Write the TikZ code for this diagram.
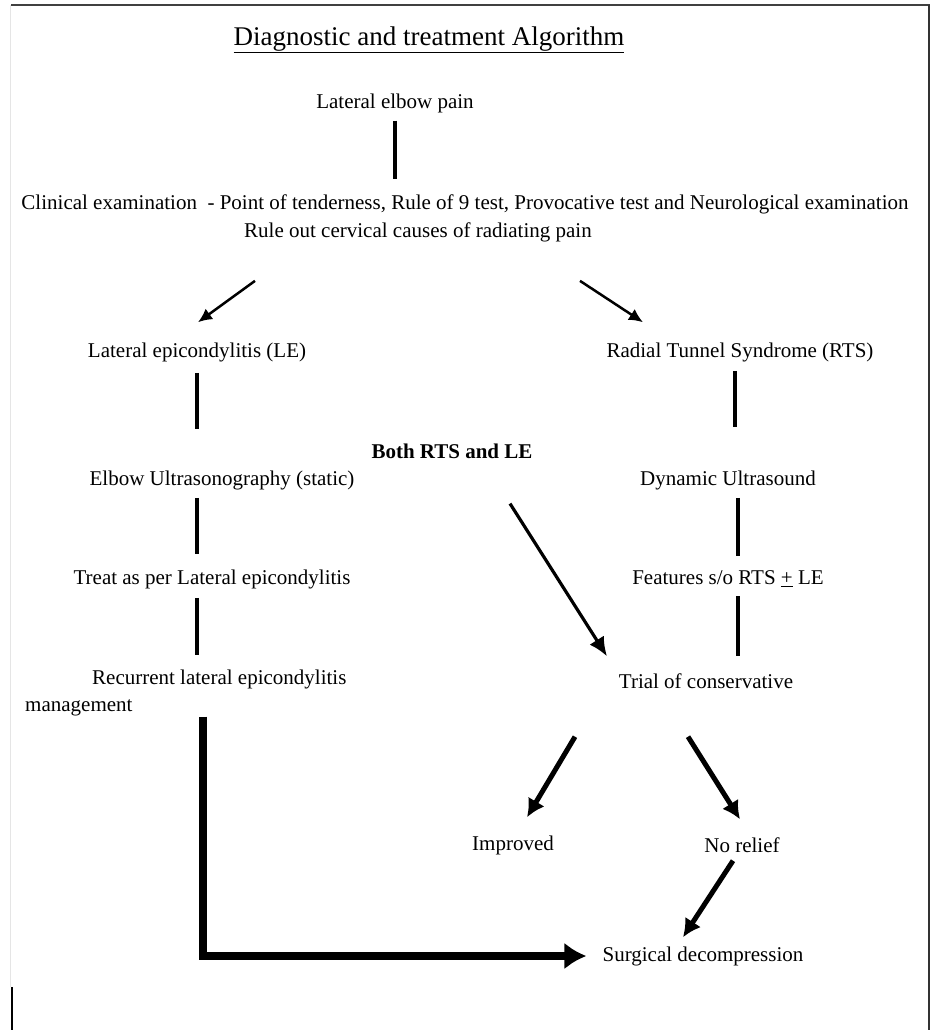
\documentclass[tikz,border=0pt]{standalone}
\usepackage{fontspec}
\setmainfont{Liberation Serif}
\usetikzlibrary{positioning}
\usetikzlibrary{arrows.meta}

\tikzset{
  txt/.style={inner sep=0pt, font=\fontsize{21}{27}\selectfont},
  stem/.style={line width=4pt},
  arr/.style={-{Latex[length=14pt,width=13pt]}, line width=2.5pt},
  midarr/.style={-{Latex[length=19pt,width=17pt]}, line width=3.2pt},
  bigarr/.style={-{Latex[length=18pt,width=19pt]}, line width=5pt},
}

\begin{document}
\begin{tikzpicture}[x=1pt,y=-1pt]
\useasboundingbox (0,0) rectangle (932,1030);

% page frame
\draw[line width=2pt, black!75] (11,5) -- (930,5);
\draw[line width=2pt, black!80] (929,5) -- (929,1030);
\draw[line width=0.8pt, black!10] (10,5) -- (10,987);
\draw[line width=1.6pt] (12,987) -- (12,1030);

\node[txt, font=\fontsize{27}{32}\selectfont] (title) at (429,40) {\underline{Diagnostic and treatment Algorithm}};

\node[txt] (pain) at (395,103) {Lateral elbow pain};
\node[txt] (clin) at (465,204) {Clinical examination\ \ - Point of tenderness, Rule of 9 test, Provocative\ test and Neurological examination};
\node[txt] (rule) at (418,232) {Rule out cervical\ causes of radiating pain};

\node[txt] (le) at (197,352) {Lateral epicondylitis\ (LE)};
\node[txt] (rts) at (740,352) {Radial Tunnel Syndrome (RTS)};
\node[txt, font=\bfseries\fontsize{21}{27}\selectfont] (both) at (452,451) {Both RTS and LE};
\node[txt] (us) at (222,480) {Elbow Ultrasonography (static)};
\node[txt] (dyn) at (728,480) {Dynamic Ultrasound};
\node[txt] (treat) at (212,579) {Treat as per Lateral epicondylitis};
\node[txt] (feat) at (728,579) {Features s/o RTS \underline{+} LE};
\node[txt, anchor=north west, align=left] (rec) at (25,670) {\hspace*{67pt}Recurrent lateral epicondylitis\\management};
\node[txt] (trial) at (706,681) {Trial of conservative};
\node[txt] (imp) at (513,845) {Improved};
\node[txt] (norel) at (742,845) {No relief};
\node[txt] (surg) at (703,956) {Surgical decompression};

% connectors
\draw[stem, shorten <=8pt, shorten >=15pt] (pain.south) -- (pain.south |- clin.north);
\draw[arr] ([xshift=-163pt,yshift=-39pt]rule.south) -- ([xshift=1pt,yshift=20pt]le.north);
\draw[arr] ([xshift=162pt,yshift=-39pt]rule.south) -- ([xshift=-97pt,yshift=20pt]rts.north);

\draw[stem, shorten <=11pt, shorten >=41pt] (le.south) -- (le.south |- us.north);
\draw[stem, shorten <=8pt, shorten >=15pt] (us.south -| le.south) -- (treat.north -| le.south);
\draw[stem, shorten <=9pt, shorten >=15pt] (treat.south -| le.south) -- (rec.north -| le.south);

\draw[stem, shorten <=9pt, shorten >=43pt] ([xshift=-5pt]rts.south) -- ([xshift=-5pt]rts.south |- dyn.north);
\draw[stem, shorten <=8pt, shorten >=15pt] ([xshift=10pt]dyn.south) -- ([xshift=10pt]dyn.south |- feat.north);
\draw[stem, shorten <=9pt, shorten >=17pt] ([xshift=10pt]feat.south) -- ([xshift=10pt]feat.south |- trial.north);

\draw[midarr] ([xshift=58pt,yshift=-45pt]both.south) -- ([xshift=-99pt,yshift=17pt]trial.north);

\draw[bigarr] ([xshift=-131pt,yshift=-48pt]trial.south) -- ([xshift=14pt,yshift=18pt]imp.north);
\draw[bigarr] ([xshift=-18pt,yshift=-48pt]trial.south) -- ([xshift=-2pt,yshift=18pt]norel.north);
\draw[bigarr] ([xshift=-9pt,yshift=-8pt]norel.south) -- ([xshift=-20pt,yshift=9pt]surg.north);

\draw[-{Latex[length=22pt,width=27pt]}, line width=8pt, shorten >=16pt] ([xshift=6pt]rec.south -| le.south) |- (surg.west);

\end{tikzpicture}
\end{document}
